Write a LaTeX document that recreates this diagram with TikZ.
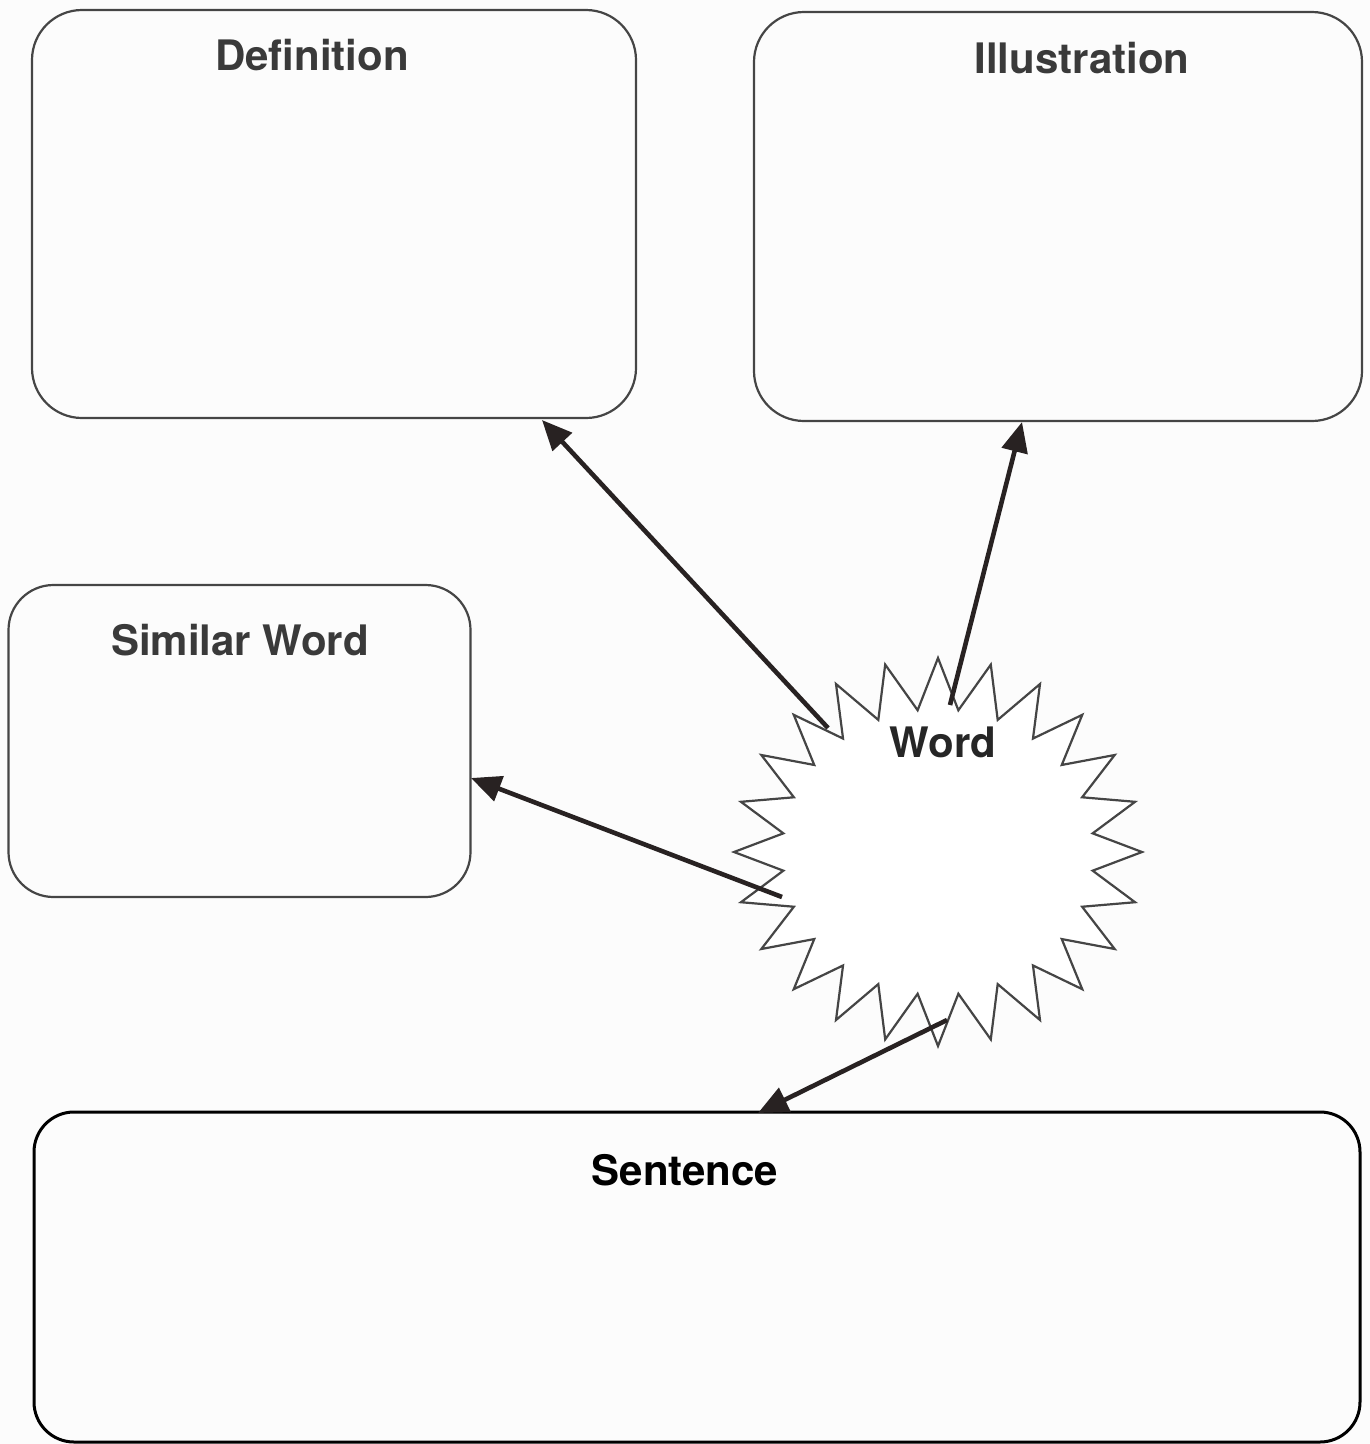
\documentclass[tikz,border=0pt]{standalone}
\usepackage{fontspec}
\setmainfont{TeX Gyre Heros}
\usetikzlibrary{arrows.meta}
\definecolor{bgc}{HTML}{FCFCFC}
\definecolor{boxline}{HTML}{454545}
\definecolor{labelc}{HTML}{3A3A3A}
\definecolor{arrowc}{HTML}{282222}
\begin{document}
\begin{tikzpicture}[x=1pt,y=-1pt,
  box/.style={draw=boxline, line width=2.2pt, rounded corners=50pt, inner sep=0pt, rectangle},
  sentbox/.style={draw=black, line width=3pt, rounded corners=40pt, inner sep=0pt, rectangle},
  title/.style={font=\fontsize{42}{48}\selectfont\bfseries, text=labelc, anchor=base, inner sep=0pt},
  starline/.style={draw=boxline, line width=2.2pt, fill=white, line join=miter},
  conn/.style={draw=arrowc, line width=4.6pt, -{Triangle[length=30pt,width=26pt]}}
]
\useasboundingbox (0,0) rectangle (1370,1444);
\fill[bgc] (0,0) rectangle (1370,1444);

% boxes
\node[box, minimum width=604pt, minimum height=408pt] (def) at (334,214) {};
\node[box, minimum width=608pt, minimum height=409pt] (ill) at (1058,216.5) {};
\node[box, rounded corners=45pt, minimum width=462pt, minimum height=312pt] (sim) at (239.5,741) {};
\node[sentbox, minimum width=1326pt, minimum height=330pt] (sent) at (697,1277) {};

% titles
\node[title] (deft) at (312,70) {Definition};
\node[title] (illt) at (1082,73) {Illustration};
\node[title] (simt) at (240,655) {Similar Word};
\node[title, text=black] (sentt) at (685,1185) {Sentence};

% starburst
\draw[starline] (938,658) \foreach \k in {0,...,23} {
  -- ({938+156*cos(97.5+15*\k)},{852-143*sin(97.5+15*\k)})
  -- ({938+204*cos(105+15*\k)},{852-194*sin(105+15*\k)}) } -- cycle;
\node[title, text={rgb,255:red,38;green,38;blue,38}] (word) at (943,757) {Word};

% connector ends
\coordinate (sdef) at (828,728);
\coordinate (sill) at (950,705);
\coordinate (ssim) at (782,897);
\coordinate (ssent) at (947,1020);
\coordinate (edef) at (542,420);
\coordinate (eill) at (1022,422);
\coordinate (esim) at (471,778);
\coordinate (esent) at (758,1113);

\draw[conn] (sdef) -- (edef);
\draw[conn] (sill) -- (eill);
\draw[conn] (ssim) -- (esim);
\draw[conn] (ssent) -- (esent);
\end{tikzpicture}
\end{document}
